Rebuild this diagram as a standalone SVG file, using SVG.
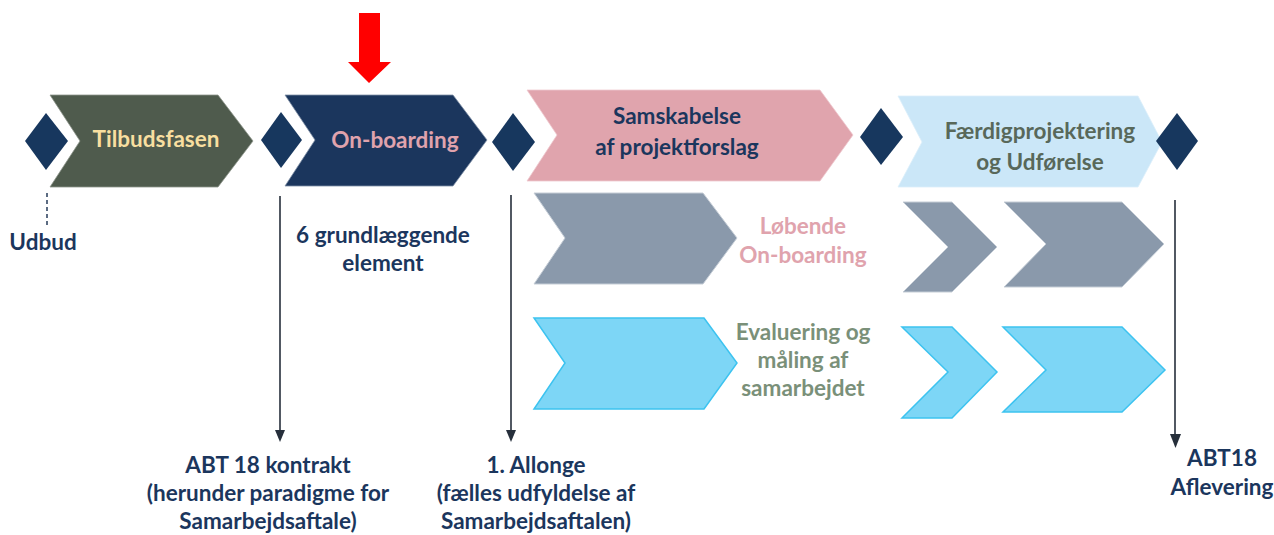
<svg xmlns="http://www.w3.org/2000/svg" width="1274" height="535" viewBox="0 0 1274 535">
<style>
text{font-family:Lato,"Open Sans","Liberation Sans",sans-serif;font-weight:bold;text-anchor:middle;font-size:22.5px}
.dia{fill:#17375E}
.navy{fill:#1B365D}
.gray{fill:#8A99AB;stroke:#C5CDD6;stroke-width:1}
.blue{fill:#7DD6F6;stroke:#3CC3F0;stroke-width:1.5}
.conn{stroke:#262F3B;stroke-width:1.6;fill:none}
.head{fill:#262F3B}
</style>
<rect width="1274" height="535" fill="#FFFFFF"/>

<g id="red-arrow">
<path d="M359,13 H380 V62 H391 L369,83 L348,62 H359 Z" fill="#FF0000"/>
</g>

<g id="tilbudsfasen">
<polygon points="50,95 218,95 253,141 218,187 50,187 80,141" fill="#4F5B4D" stroke="#8E968C" stroke-width="0.8"/>
<text x="156" y="147" fill="#F8DFA0">Tilbudsfasen</text>
</g>
<g id="onboarding">
<polygon points="285,95 453,95 487,140 453,186 285,186 315,140" fill="#1B365D" stroke="#7F8FA6" stroke-width="0.8"/>
<text x="395" y="148" fill="#E0A3AD">On-boarding</text>
</g>
<g id="samskabelse">
<polygon points="527,90 820,90 853,135 820,181 527,181 557,135" fill="#E0A4AD" stroke="#EFC9CF" stroke-width="0.8"/>
<text x="677" y="124" class="navy">Samskabelse</text>
<text x="677" y="155" class="navy">af projektforslag</text>
</g>
<g id="faerdig">
<polygon points="898,96 1138,96 1162,142 1138,187 898,187 922,142" fill="#CBE7F8" stroke="#DCEFFA" stroke-width="0.8"/>
<text x="1040" y="139" fill="#58685A">Færdigprojektering</text>
<text x="1040" y="170" fill="#58685A">og Udførelse</text>
</g>

<g id="d1"><polygon class="dia" points="46,113 68,141 46,170 25,141"/></g>
<g id="d2"><polygon class="dia" points="281,112 302,140 281,168 261,140"/></g>
<g id="d3"><polygon class="dia" points="513,113 535,142 513,171 492,142"/></g>
<g id="d4"><polygon class="dia" points="881,108 903,137 881,165 860,137"/></g>
<g id="d5"><polygon class="dia" points="1177,113 1198,141 1177,170 1156,141"/></g>

<g id="loebende">
<polygon class="gray" points="534,193 703,193 737,238 703,284 534,284 565,238"/>
<polygon class="gray" points="903,202 952,202 997,247 952,292 903,292 948,247"/>
<polygon class="gray" points="1004,202 1122,202 1164,244 1122,287 1004,287 1046,244"/>
<text x="803" y="234" fill="#E0A3AD">Løbende</text>
<text x="803" y="263" fill="#E0A3AD">On-boarding</text>
</g>
<g id="evaluering">
<polygon class="blue" points="534,318 704,318 737,363 704,409 534,409 565,363"/>
<polygon class="blue" points="902,327 952,327 997,372 952,418 902,418 948,372"/>
<polygon class="blue" points="1003,327 1122,327 1165,370 1122,412 1003,412 1046,370"/>
<text x="803" y="340" fill="#7A9079">Evaluering og</text>
<text x="803" y="368" fill="#7A9079">måling af</text>
<text x="803" y="396" fill="#7A9079">samarbejdet</text>
</g>

<g id="udbud">
<text x="43" y="250" class="navy">Udbud</text>
</g>
<g id="grundlaeggende">
<text x="383" y="243" class="navy">6 grundlæggende</text>
<text x="383" y="271" class="navy">element</text>
</g>
<g id="abt18kontrakt">
<text x="268" y="473" class="navy">ABT 18 kontrakt</text>
<text x="268" y="501" class="navy">(herunder paradigme for</text>
<text x="268" y="529" class="navy">Samarbejdsaftale)</text>
</g>
<g id="allonge">
<text x="536" y="473" class="navy">1. Allonge</text>
<text x="536" y="501" class="navy">(fælles udfyldelse af</text>
<text x="536" y="529" class="navy">Samarbejdsaftalen)</text>
</g>
<g id="aflevering">
<text x="1222" y="466" class="navy">ABT18</text>
<text x="1222" y="495" class="navy">Aflevering</text>
</g>

<g id="connectors">
<line x1="47" y1="193" x2="47" y2="227" stroke="#5B6B82" stroke-width="2" stroke-dasharray="4,3"/>
<line class="conn" x1="280" y1="196" x2="280" y2="432"/>
<polygon class="head" points="275,430 285,430 280,442"/>
<line class="conn" x1="511" y1="195" x2="511" y2="432"/>
<polygon class="head" points="506,430 516,430 511,442"/>
<line class="conn" x1="1175" y1="200" x2="1175" y2="436"/>
<polygon class="head" points="1170,434 1181,434 1175.5,448"/>
</g>
</svg>
